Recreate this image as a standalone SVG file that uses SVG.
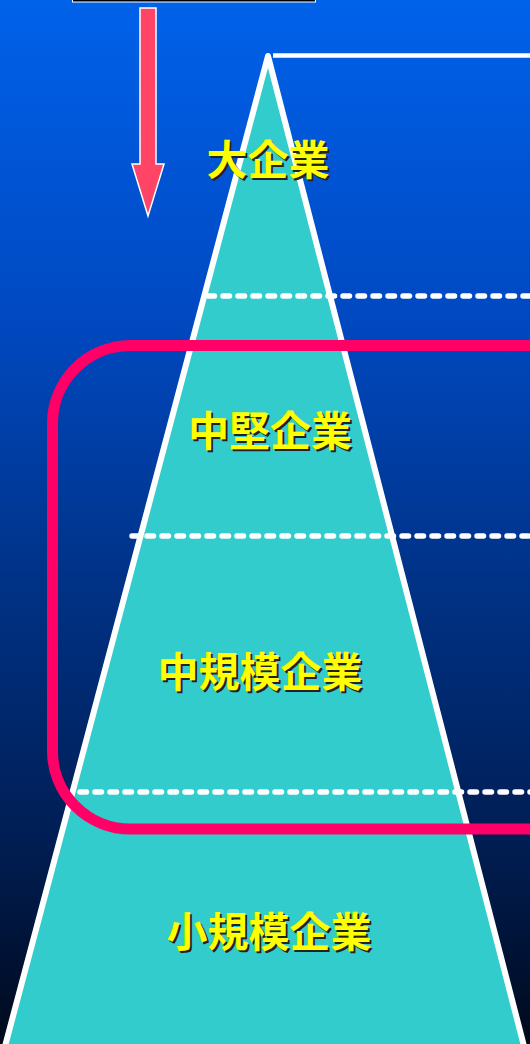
<svg xmlns="http://www.w3.org/2000/svg" width="530" height="1044" viewBox="0 0 530 1044">
  <defs>
    <linearGradient id="bg" x1="0" y1="0" x2="0" y2="1">
      <stop offset="0" stop-color="#0062ea"/>
      <stop offset="0.3" stop-color="#0049c2"/>
      <stop offset="0.55" stop-color="#003388"/>
      <stop offset="0.8" stop-color="#001e55"/>
      <stop offset="1" stop-color="#000a1c"/>
    </linearGradient>
    <style>
      .dash { stroke: #ffffff; stroke-width: 5.5; stroke-dasharray: 6.5 8.5; stroke-linecap: round; fill: none; }
      .lbl { font-family: "Noto Sans CJK JP", "Noto Sans CJK SC", sans-serif; font-weight: bold; font-size: 41px; text-anchor: middle; }
      .shadow { fill: #222222; }
      .txt { fill: #ffff00; }
    </style>
  </defs>
  <rect x="0" y="0" width="530" height="1044" fill="url(#bg)"/>

  <g id="topbox">
    <rect x="72.5" y="-10" width="243" height="12" fill="#000000" stroke="#ffffff" stroke-width="1"/>
  </g>

  <g id="arrow">
    <polygon points="140,8 156,8 156,164 164,164 148,216 132,164 140,164" fill="#ff4466" stroke="#ffffff" stroke-width="1.5" stroke-linejoin="miter"/>
  </g>

  <g id="pyramid">
    <polygon points="268,56 4,1050 525,1050" fill="#33cccc" stroke="#ffffff" stroke-width="6" stroke-linejoin="round"/>
  </g>

  <g id="connectors">
    <line x1="273" y1="55.5" x2="532" y2="55.5" stroke="#ffffff" stroke-width="4.5"/>
    <line class="dash" x1="208" y1="296" x2="532" y2="296"/>
    <line class="dash" x1="132" y1="536" x2="532" y2="536"/>
    <line class="dash" x1="80" y1="792" x2="532" y2="792"/>
    <path d="M545,345.5 H130 A78,78 0 0 0 52.5,423.5 V751 A78,78 0 0 0 130.5,829 H545" fill="none" stroke="#ff0066" stroke-width="11"/>
  </g>

  <g id="n-large">
    <text class="lbl shadow" x="270" y="177">大企業</text>
    <text class="lbl txt" x="268" y="175">大企業</text>
  </g>
  <g id="n-midsize">
    <text class="lbl shadow" x="272" y="448">中堅企業</text>
    <text class="lbl txt" x="270" y="446">中堅企業</text>
  </g>
  <g id="n-medium">
    <text class="lbl shadow" x="262" y="689">中規模企業</text>
    <text class="lbl txt" x="260" y="687">中規模企業</text>
  </g>
  <g id="n-small">
    <text class="lbl shadow" x="271" y="949">小規模企業</text>
    <text class="lbl txt" x="269" y="947">小規模企業</text>
  </g>
</svg>
